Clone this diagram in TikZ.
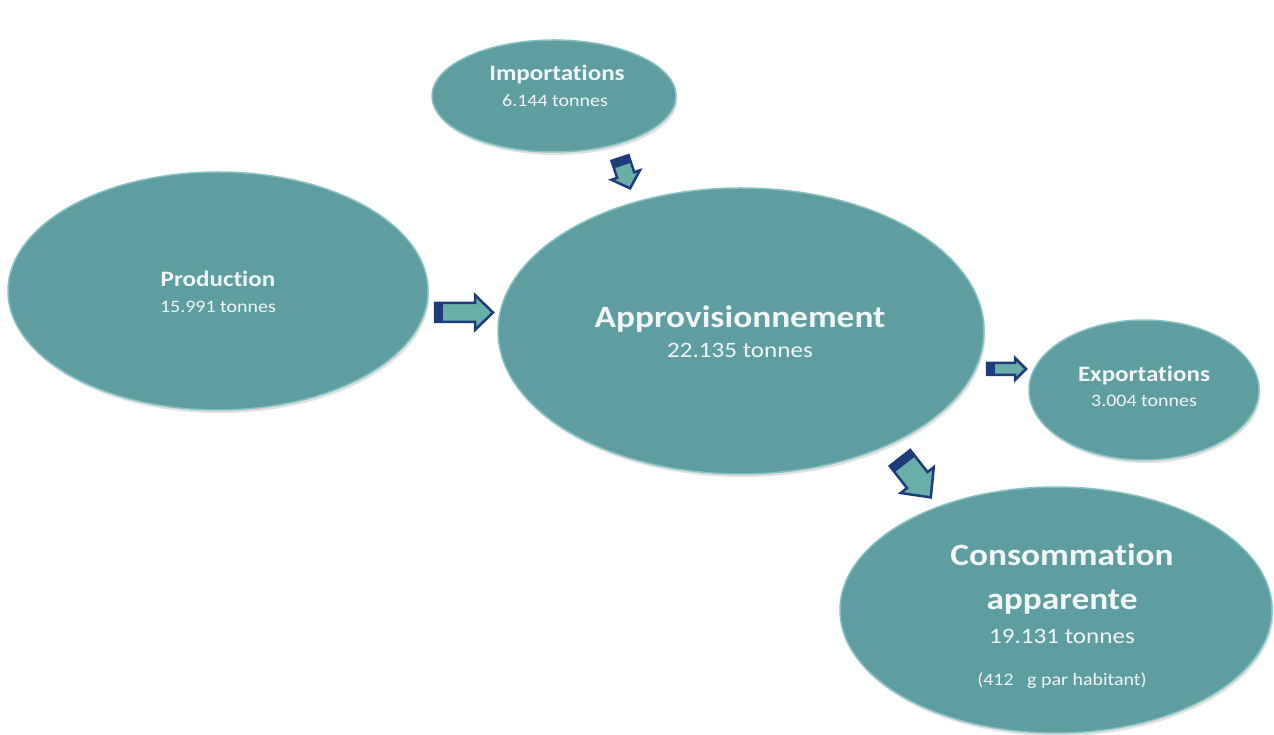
\documentclass[tikz,border=0pt]{standalone}
\usepackage{fontspec}
\setmainfont{Carlito}[Ligatures=NoCommon]
\usetikzlibrary{shapes.geometric,shadows}

\definecolor{teal}{HTML}{5F9EA0}
\definecolor{rim}{HTML}{86C2C2}
\definecolor{arrowfill}{HTML}{6AAEA8}
\definecolor{arrowline}{HTML}{1E3C7C}
\definecolor{txt}{HTML}{F2F6F6}

\newcommand{\fs}[1]{\fontsize{#1}{#1}\selectfont}

\tikzset{
  blob/.style={ellipse,fill=teal,draw=rim,line width=1.5pt,inner sep=0pt,
    drop shadow={shadow xshift=1.5pt,shadow yshift=-3pt,opacity=.25}},
  lbl/.style={text=txt,inner sep=0pt,anchor=base,xscale=1.14,transform shape},
  pics/flow/.style n args={4}{code={
    \filldraw[fill=arrowfill,draw=arrowline,line width=2.5pt,line join=miter]
      (0,-#3) -- ({#1-#2},-#3) -- ({#1-#2},-#4) -- (#1,0)
      -- ({#1-#2},#4) -- ({#1-#2},#3) -- (0,#3) -- cycle;
    \fill[arrowline] (0,-#3) rectangle (8,#3);
  }}
}

\begin{document}
\begin{tikzpicture}[x=1pt,y=1pt]
\useasboundingbox (0,0) rectangle (1274,734);

% ellipses
\node[blob,minimum width=420,minimum height=238] (prod) at (218,443) {};
\node[blob,minimum width=244,minimum height=112] (imp) at (554,638) {};
\node[blob,minimum width=486,minimum height=286] (appro) at (741,403) {};
\node[blob,minimum width=230,minimum height=140] (exp) at (1144,344) {};
\node[blob,minimum width=432,minimum height=246] (cons) at (1056,124) {};

% texts
\node[lbl] (prodname) at (218,447) {\fs{22}\bfseries Production};
\node[lbl] (prodval) at (218,421) {\fs{17.5}15.991 tonnes};
\node[lbl] (impname) at (557,653) {\fs{22}\bfseries Importations};
\node[lbl] (impval) at (555,627) {\fs{17.5}6.144 tonnes};
\node[lbl] (approname) at (740,406) {\fs{31}\bfseries Approvisionnement};
\node[lbl] (approval) at (740,376) {\fs{22}22.135 tonnes};
\node[lbl] (expname) at (1144,352) {\fs{22}\bfseries Exportations};
\node[lbl] (expval) at (1144,327) {\fs{17.5}3.004 tonnes};
\node[lbl] (consname) at (1062,168) {\fs{31}\bfseries Consommation};
\node[lbl] (consname2) at (1062,125) {\fs{31}\bfseries apparente};
\node[lbl] (consval) at (1062,91) {\fs{22}19.131 tonnes};
\node[lbl] (consper) at (1062,49) {\fs{17.5}(412\ \ \ g par habitant)};

% block arrows
\coordinate (t1) at (435,421.5);
\coordinate (t2) at (620,576);
\coordinate (t3) at (987,365);
\coordinate (t4) at (900,276);
\pic at (t1) {flow={58}{18}{9.5}{17.5}};
\pic[rotate=-71.6] at (t2) {flow={32}{14}{9}{15}};
\pic at (t3) {flow={39}{11}{6}{11}};
\pic[rotate=-52] at (t4) {flow={50}{22}{13}{21}};

\end{tikzpicture}
\end{document}
